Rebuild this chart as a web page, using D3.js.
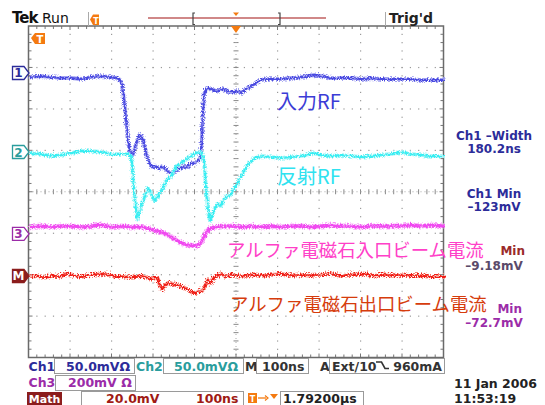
<!DOCTYPE html>
<html><head><meta charset="utf-8">
<script src="https://cdn.jsdelivr.net/npm/d3@7"></script>
<style>body{margin:0;background:#fff}svg{display:block}</style>
</head><body>
<svg id="c" width="545" height="405"></svg>
<script>
// ---- data: [time ns, mV] ----
const ch1 = [[0,-3.6],[28,-2.4],[52,-3.6],[76,-4.8],[100,-4.8],[124,-6],[148,-3.6],[172,-2.4],[196,-3.6],[211,-4.8],[218,-7.2],[223,-13.2],[228,-32.5],[233,-56.5],[237,-80.5],[242,-95],[247,-98.6],[252,-92.6],[259,-80.5],[266,-73.3],[273,-78.1],[281,-95],[288,-107],[295,-111.8],[305,-111.8],[312,-114.2],[319,-111.8],[327,-114.2],[334,-117.8],[341,-119],[350,-117.8],[360,-114.2],[370,-111.8],[380,-111.8],[389,-108.2],[399,-107],[406,-104.6],[411,-102.2],[415,-80.5],[418,-44.5],[420,-26.4],[425,-18],[432,-16.8],[442,-19.2],[452,-20.4],[461,-18],[471,-19.2],[481,-21.6],[490,-21.6],[500,-20.4],[510,-22.8],[519,-19.2],[529,-15.6],[539,-13.2],[548,-9.6],[558,-7.2],[570,-6],[582,-6],[606,-6],[631,-4.8],[655,-3.6],[685,-1.2],[703,-2.4],[727,-4.8],[751,-4.8],[775,-4.8],[799,-6],[823,-4.8],[847,-6],[871,-6],[895,-6],[919,-6],[943,-7.2],[967,-7.2],[1000,-7.2]];
const ch2 = [[0,0],[28,-1.2],[52,-3.6],[76,-2.4],[100,0],[124,2.4],[148,2.4],[172,1.2],[196,-1.2],[220,-1.2],[240,-1.2],[245,-4.8],[249,-27.6],[254,-57.7],[259,-79.3],[264,-73.3],[269,-63.7],[276,-55.3],[285,-42],[292,-48],[302,-57.7],[309,-51.7],[317,-45.7],[329,-33.7],[341,-27.6],[353,-16.8],[365,-12],[377,-7.2],[389,-3.6],[401,0],[411,1.2],[415,0],[420,-9.6],[425,-39.7],[430,-69.7],[435,-81.7],[440,-74.5],[447,-66.1],[454,-61.3],[461,-63.7],[469,-55.3],[476,-51.7],[483,-50.5],[490,-45.7],[500,-37.3],[510,-27.6],[519,-19.2],[529,-12],[539,-7.2],[548,-4.8],[563,-3.6],[582,-4.8],[606,-6],[631,-4.8],[655,-3.6],[683,0],[703,-2.4],[727,-3.6],[751,-2.4],[775,-3.6],[799,-4.8],[823,-3.6],[847,-2.4],[871,-1.2],[895,1.2],[919,-1.2],[943,-2.4],[967,-3.6],[1000,-3.6]];
const ch3 = [[0,38.5],[28,43.3],[52,38.5],[76,43.3],[100,43.3],[124,38.5],[148,43.3],[172,48.1],[196,38.5],[220,43.3],[245,38.5],[269,38.5],[281,33.7],[293,28.8],[305,19.2],[317,14.4],[329,4.8],[341,-9.6],[353,-24],[365,-38.5],[377,-48.1],[389,-48.1],[401,-52.9],[408,-48.1],[415,-28.8],[423,0],[430,24],[437,33.7],[449,38.5],[461,43.3],[485,43.3],[510,38.5],[534,43.3],[558,38.5],[582,43.3],[606,38.5],[631,43.3],[655,43.3],[679,38.5],[703,43.3],[727,48.1],[751,43.3],[775,43.3],[799,38.5],[823,43.3],[847,43.3],[871,43.3],[895,43.3],[919,48.1],[943,43.3],[967,48.1],[1000,43.3]];
const mathCh = [[0,0.5],[16,1],[32,0],[52,1],[71,0.5],[88,1.9],[105,1],[124,0.5],[148,1.4],[172,1.9],[192,1.4],[209,0.5],[225,0.5],[245,0],[264,1],[281,0],[293,-0.5],[305,0],[312,-3.4],[317,-5.8],[324,-3.8],[331,-2.4],[341,-2.9],[353,-3.4],[365,-4.3],[377,-5.3],[389,-6.7],[396,-7.7],[404,-6.7],[413,-6.3],[420,-4.8],[428,-1],[435,-2.9],[442,0],[452,1],[461,1.9],[471,0.5],[485,1.4],[510,0.5],[534,1.4],[558,1],[582,1.4],[606,1.9],[631,1],[655,1.4],[679,1],[703,1.4],[727,1.9],[751,1],[775,1.4],[799,1.9],[823,1],[847,1.4],[871,1],[895,1.4],[919,1],[943,1],[967,0.5],[1000,0.5]];

const scaleText = ["50.0mVΩ","50.0mVΩ","200mV Ω","20.0mV"];
const measLabels = ["Ch1 –Width","180.2ns","Ch1 Min","–123mV","Min","–9.18mV","Min","–72.7mV"];
const traceLabels = ["入力RF","反射RF","アルファ電磁石入口ビーム電流","アルファ電磁石出口ビーム電流"];

// ---- channel settings (mV/div, marker position in div) ----
const chans = [
  {name:"1", data:ch1, mvdiv:50, pos:2.866, color:"#4a4ae0", halo:"#9a9af0", mk:"#2c2c9a", w:2, hw:4, nz:"nz"},
  {name:"2", data:ch2, mvdiv:50, pos:0.959, color:"#38eef2", halo:"#a8f6f8", mk:"#2a9d9d", w:2, hw:4, nz:"nz"},
  {name:"3", data:ch3, mvdiv:200, pos:-1.019, color:"#f048f0", halo:"#f8a8f8", mk:"#9b2ca8", w:3, hw:5, nz:"nz"},
  {name:"M", data:mathCh, mvdiv:20, pos:-2.033, color:"#f01c14", halo:"#f89a90", mk:"#8b1d1d", w:2.2, hw:4, nz:"nz2"}
];

const L=28.5, R=443.5, T=26, B=357.5;
const x = d3.scaleLinear().domain([0,1000]).range([L,R]);
const y = d3.scaleLinear().domain([-4,4]).range([B,T]);
const svg = d3.select("#c");
const defs = svg.append("defs");
function mkFilter(id, sc){
  const f = defs.append("filter").attr("id",id).attr("x","-2%").attr("y","-20%").attr("width","104%").attr("height","140%");
  f.append("feTurbulence").attr("type","turbulence").attr("baseFrequency","0.7 0.5").attr("numOctaves",2).attr("seed",4).attr("result","t");
  f.append("feDisplacementMap").attr("in","SourceGraphic").attr("in2","t").attr("scale",sc).attr("xChannelSelector","R").attr("yChannelSelector","G");
}
mkFilter("nz",4); mkFilter("nz2",6);

// ---- graticule ----
const g = svg.append("g");
const dotC = "#9a9a9a";
for (let i=1;i<10;i++){ if(i===5) continue;
  for (let k=1;k<40;k++){ g.append("rect").attr("x",x(i*100)-0.5).attr("y",y(-4+k*0.2)-0.5).attr("width",1.2).attr("height",1.2).attr("fill",dotC);} }
for (let j=-3;j<=3;j++){ if(j===0) continue;
  for (let k=1;k<50;k++){ g.append("rect").attr("x",x(k*20)-0.5).attr("y",y(j)-0.5).attr("width",1.2).attr("height",1.2).attr("fill",dotC);} }
for (let k=1;k<50;k++){ g.append("line").attr("x1",x(k*20)).attr("x2",x(k*20)).attr("y1",y(0)-2.5).attr("y2",y(0)+2.5).attr("stroke","#888").attr("stroke-width",1); }
for (let k=1;k<40;k++){ g.append("line").attr("x1",x(500)-2.5).attr("x2",x(500)+2.5).attr("y1",y(-4+k*0.2)).attr("y2",y(-4+k*0.2)).attr("stroke","#888").attr("stroke-width",1); }
g.append("line").attr("x1",L).attr("x2",R).attr("y1",y(0)).attr("y2",y(0)).attr("stroke","#aaa").attr("stroke-dasharray","1,3");
g.append("line").attr("x1",x(500)).attr("x2",x(500)).attr("y1",T).attr("y2",B).attr("stroke","#aaa").attr("stroke-dasharray","1,3");
for (let k=1;k<50;k++){ const len = (k%5===0)?4:3;
  g.append("line").attr("x1",x(k*20)).attr("x2",x(k*20)).attr("y1",T).attr("y2",T+len).attr("stroke","#777");
  g.append("line").attr("x1",x(k*20)).attr("x2",x(k*20)).attr("y1",B).attr("y2",B-len).attr("stroke","#777"); }
for (let k=1;k<40;k++){ const len=(k%5===0)?4:3;
  g.append("line").attr("x1",L).attr("x2",L+len).attr("y1",y(-4+k*0.2)).attr("y2",y(-4+k*0.2)).attr("stroke","#777");
  g.append("line").attr("x1",R).attr("x2",R-len).attr("y1",y(-4+k*0.2)).attr("y2",y(-4+k*0.2)).attr("stroke","#777"); }
g.append("rect").attr("x",L).attr("y",T).attr("width",R-L).attr("height",B-T).attr("fill","none").attr("stroke","#6a6a6a").attr("stroke-width",1.5);

// ---- traces ----
const tg = svg.append("g");
chans.forEach(c=>{
  const line = d3.line().x(d=>x(d[0])).y(d=>y(c.pos + d[1]/c.mvdiv));
  tg.append("path").attr("d",line(c.data)).attr("fill","none").attr("stroke",c.halo).attr("stroke-width",c.hw).attr("stroke-linejoin","round").attr("filter",`url(#${c.nz})`).attr("opacity",0.9);
  tg.append("path").attr("d",line(c.data)).attr("fill","none").attr("stroke",c.color).attr("stroke-width",c.w).attr("stroke-linejoin","round").attr("filter",`url(#${c.nz})`);
});

// ---- channel markers ----
chans.forEach(c=>{
  const yy = y(c.pos);
  const filled = c.name==="M";
  svg.append("path").attr("d",`M12.5,${yy-6.5}H24L29,${yy}L24,${yy+6.5}H12.5Z`).attr("fill",filled?c.mk:"#fff").attr("stroke",c.mk).attr("stroke-width",1.3);
  svg.append("text").attr("x",18.5).attr("y",yy+4.5).attr("text-anchor","middle").attr("font-family","DejaVu Sans").attr("font-weight","bold").attr("font-size",12).attr("fill",filled?"#fff":c.mk).text(c.name);
});

const orange="#f47a10";
svg.append("path").attr("d",`M${x(500)-5},${T}L${x(500)+5},${T}L${x(500)},${T+7}Z`).attr("fill",orange);
svg.append("path").attr("d",`M31,38L35,33H45V44H35Z`).attr("fill",orange);
svg.append("text").attr("x",40).attr("y",42.5).attr("text-anchor","middle").attr("font-family","DejaVu Sans").attr("font-weight","bold").attr("font-size",10).attr("fill","#fff").text("T");

// ---- top bar ----
const font="DejaVu Sans";
svg.append("text").attr("x",12).attr("y",23).attr("font-family",font).attr("font-weight","bold").attr("font-size",15).attr("letter-spacing",-1).attr("fill","#111").text("Tek");
svg.append("text").attr("x",42).attr("y",23).attr("font-family",font).attr("font-size",14).attr("fill","#111").text("Run");
svg.append("line").attr("x1",88.5).attr("x2",88.5).attr("y1",12).attr("y2",26).attr("stroke","#aaa");
svg.append("path").attr("d","M90,19.5L93,14.5H99V25H93Z").attr("fill",orange);
svg.append("text").attr("x",96).attr("y",23.5).attr("text-anchor","middle").attr("font-family",font).attr("font-weight","bold").attr("font-size",8).attr("fill","#fff").text("T");
svg.append("line").attr("x1",148).attr("x2",326).attr("y1",18).attr("y2",18).attr("stroke","#d08888").attr("stroke-width",2);
svg.append("path").attr("d","M195,13H193V24.5H195").attr("fill","none").attr("stroke","#444").attr("stroke-width",1.2);
svg.append("path").attr("d","M278,13H280V24.5H278").attr("fill","none").attr("stroke","#444").attr("stroke-width",1.2);
svg.append("path").attr("d","M233,12.5H239L236,16Z").attr("fill",orange);
svg.append("line").attr("x1",385.5).attr("x2",385.5).attr("y1",12).attr("y2",26).attr("stroke","#aaa");
svg.append("text").attr("x",389).attr("y",23).attr("font-family",font).attr("font-weight","bold").attr("font-size",14).attr("fill","#222").text("Trig'd");

// ---- trace labels ----
const lab = [
  {t:traceLabels[0], x:277, y:109, s:20, c:"#3c3cd6"},
  {t:traceLabels[1], x:277, y:184, s:20, c:"#30e2f0"},
  {t:traceLabels[2], x:227, y:256.5, s:18.4, c:"#ff40c8"},
  {t:traceLabels[3], x:230, y:311, s:18.4, c:"#d63c0c"}
];
lab.forEach(l=>svg.append("text").attr("x",l.x).attr("y",l.y).attr("font-family","Noto Sans CJK JP").attr("font-size",l.s).attr("fill",l.c).text(l.t));

// ---- measurements ----
const meas = [
  {t:measLabels[0], x:494, y:140, c:"#2c2c9a", a:"middle"},{t:measLabels[1], x:494, y:152.5, c:"#2c2c9a", a:"middle"},
  {t:measLabels[2], x:494, y:198, c:"#2c2c9a", a:"middle"},{t:measLabels[3], x:494, y:210.5, c:"#2c2c9a", a:"middle"},
  {t:measLabels[4], x:525, y:255, c:"#9a2a2a", a:"end"},{t:measLabels[5], x:494, y:270, c:"#5a4a6a", a:"middle"},
  {t:measLabels[6], x:522, y:313, c:"#9b2ca8", a:"end"},{t:measLabels[7], x:494, y:327, c:"#9b2ca8", a:"middle"}
];
meas.forEach(m=>svg.append("text").attr("x",m.x).attr("y",m.y).attr("text-anchor",m.a).attr("font-family",font).attr("font-weight","bold").attr("font-size",12).attr("fill",m.c).text(m.t));

// ---- status bar ----
function box(x0,y0,w,h){ svg.append("rect").attr("x",x0+0.5).attr("y",y0+0.5).attr("width",w).attr("height",h).attr("fill","none").attr("stroke","#9a9a9a"); }
function txt(t,x0,y0,c,anchor,fs){ svg.append("text").attr("x",x0).attr("y",y0).attr("text-anchor",anchor||"start").attr("font-family",font).attr("font-weight","bold").attr("font-size",fs||12.5).attr("fill",c).text(t); }
txt("Ch1",28.5,370.5,"#2c2c9a"); box(54,358,80,15); txt(scaleText[0],66,370.5,"#2c2c9a");
txt("Ch2",136,370.5,"#2a9d9d"); box(163,358,80,15); txt(scaleText[1],174,370.5,"#2a9d9d");
txt("M",245,370.5,"#333"); box(256,358,52,15); txt("100ns",262,370.5,"#333");
txt("A",320,370.5,"#333"); box(329,358,115,15); txt("Ext/10",332,370.5,"#333");
svg.append("path").attr("d","M376,362H381.5L385,368.5H389").attr("fill","none").attr("stroke","#333").attr("stroke-width",1.6);
txt("960mA",442,370.5,"#333","end");
txt("Ch3",28.5,386.5,"#9b2ca8"); box(55,375,80,15); txt(scaleText[2],68,386.5,"#9b2ca8");
svg.append("rect").attr("x",27).attr("y",392).attr("width",35).attr("height",13).attr("fill","#8b1d1d");
txt("Math",44.5,402.5,"#fff","middle",11);
box(81,391,162,14); txt(scaleText[3],106,402.5,"#a01a14"); txt("100ns",196,402.5,"#a01a14");
svg.append("rect").attr("x",248).attr("y",393).attr("width",9).attr("height",10).attr("fill",orange);
svg.append("text").attr("x",252.5).attr("y",401.5).attr("text-anchor","middle").attr("font-family",font).attr("font-weight","bold").attr("font-size",8).attr("fill","#fff").text("T");
svg.append("path").attr("d","M258,398H266").attr("stroke",orange).attr("stroke-width",1.3);
svg.append("path").attr("d","M265,395.5L268,398L265,400.5").attr("fill","none").attr("stroke",orange).attr("stroke-width",1.2);
svg.append("path").attr("d","M270,394H278L274,399Z").attr("fill",orange);
box(280,391,83,14); txt("1.79200µs",283,402.5,"#222");
txt("11 Jan  2006",454,387.5,"#222"); txt("11:53:19",454,403,"#222");
</script>
</body></html>
